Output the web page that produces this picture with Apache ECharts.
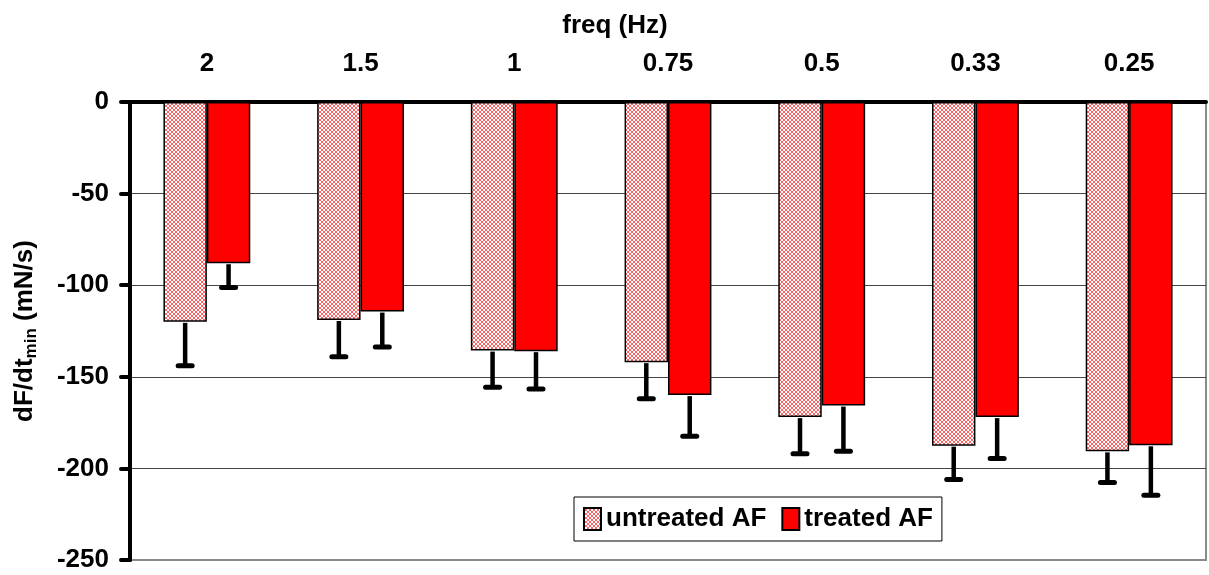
<!DOCTYPE html>
<html>
<head>
<meta charset="utf-8">
<script src="https://cdn.jsdelivr.net/npm/echarts@6/dist/echarts.min.js"></script>
<style>
  html, body { margin: 0; padding: 0; background: #fff; }
  #chart { width: 1209px; height: 575px; }
</style>
</head>
<body>
<div id="chart"></div>
<script>
// frequency categories (top axis)
var freqs = ['2', '1.5', '1', '0.75', '0.5', '0.33', '0.25']
// means and error (downward only)
var untreated = [-120, -119, -135.7, -142, -172, -187.6, -190.7]
var untreatedErr = [24, 20, 20, 20, 20, 18.5, 17]
var treated = [-88, -114.4, -136, -160, -165.7, -172, -187.4]
var treatedErr = [13.2, 19.3, 20.6, 22.4, 25, 22.6, 27.3]

var FONT = "'Liberation Sans', Arial, sans-serif"
var CAT_GAP = 0.435

// cross-hatch fill for the untreated bars
function hatch () {
  var c = document.createElement('canvas')
  c.width = 4
  c.height = 4
  var ctx = c.getContext('2d')
  ctx.fillStyle = '#fff'
  ctx.fillRect(0, 0, 4, 4)
  ctx.fillStyle = '#ff6464'
  for (var i = 0; i < 4; i++) {
    ctx.fillRect(i, i, 1, 1)
    ctx.fillRect(3 - i, i, 1, 1)
  }
  return c
}

function errData (means, errs) {
  return means.map(function (m, i) { return [i, m, m - errs[i]] })
}

// side: -1 left bar, 1 right bar
function errRenderer (side) {
  return function (params, api) {
    var idx = api.value(0)
    var top = api.coord([idx, api.value(1)])
    var bot = api.coord([idx, api.value(2)])
    var band = api.size([1, 0])[0]
    var bw = band * (1 - CAT_GAP) / 2
    var x = top[0] + side * bw / 2
    return {
      type: 'group',
      children: [
        { type: 'line', shape: { x1: x, y1: top[1] + 1, x2: x, y2: bot[1] }, style: { stroke: '#000', lineWidth: 4.5 } },
        { type: 'line', shape: { x1: x - 7, y1: bot[1], x2: x + 7, y2: bot[1] }, style: { stroke: '#000', lineWidth: 5, lineCap: 'round' } }
      ]
    }
  }
}

var chart = echarts.init(document.getElementById('chart'))
chart.setOption({
  animation: false,
  textStyle: { fontFamily: FONT },
  grid: {
    left: 130, right: 3, top: 102, bottom: 15,
    show: true, borderColor: '#8a8a8a', borderWidth: 2
  },
  graphic: [{
    type: 'text', x: 615, y: 26,
    style: { text: 'freq (Hz)', font: 'bold 26px ' + FONT, fill: '#000', align: 'center', verticalAlign: 'middle' }
  }],
  legend: {
    data: ['untreated AF', 'treated AF'],
    left: 574, top: 497,
    padding: [9, 9, 9, 9],
    itemGap: 15,
    itemWidth: 17,
    itemHeight: 22,
    icon: 'rect',
    borderColor: '#000',
    borderWidth: 1,
    itemStyle: { borderColor: '#000', borderWidth: 2 },
    textStyle: { fontSize: 26, fontWeight: 'bold', color: '#000', fontFamily: FONT }
  },
  xAxis: {
    type: 'category',
    position: 'top',
    data: freqs,
    axisLine: { lineStyle: { color: '#000', width: 4 } },
    axisTick: { inside: true, length: 6, lineStyle: { color: '#000', width: 4, cap: 'round' } },
    axisLabel: { color: '#000', fontSize: 26, fontWeight: 'bold', margin: 25 }
  },
  yAxis: {
    type: 'value',
    min: -250, max: 0, interval: 50,
    name: '{a|dF/dt}{s|min}{a| (mN/s)}',
    nameLocation: 'middle',
    nameGap: 90,
    nameTextStyle: {
      rich: {
        a: { fontSize: 26, fontWeight: 'bold', color: '#000', lineHeight: 30, fontFamily: FONT },
        s: { fontSize: 17, fontWeight: 'bold', color: '#000', lineHeight: 14, verticalAlign: 'bottom', fontFamily: FONT }
      }
    },
    axisLine: { show: true, lineStyle: { color: '#000', width: 4 } },
    axisTick: { show: true, length: 9, lineStyle: { color: '#000', width: 4, cap: 'round' } },
    axisLabel: { color: '#000', fontSize: 26, fontWeight: 'bold', margin: 21 },
    splitLine: { show: true, showMinLine: false, lineStyle: { color: '#444', width: 1 } }
  },
  series: [
    {
      name: 'untreated AF',
      type: 'bar',
      data: untreated,
      barGap: '0%',
      barCategoryGap: (CAT_GAP * 100) + '%',
      itemStyle: { color: { image: hatch(), repeat: 'repeat' }, borderColor: '#000', borderWidth: 1.5 }
    },
    {
      name: 'treated AF',
      type: 'bar',
      data: treated,
      barGap: '0%',
      barCategoryGap: (CAT_GAP * 100) + '%',
      itemStyle: { color: '#ff0000', borderColor: '#000', borderWidth: 1.5 }
    },
    {
      type: 'custom',
      z: 5,
      renderItem: errRenderer(-1),
      encode: { x: 0, y: [1, 2] },
      data: errData(untreated, untreatedErr)
    },
    {
      type: 'custom',
      z: 5,
      renderItem: errRenderer(1),
      encode: { x: 0, y: [1, 2] },
      data: errData(treated, treatedErr)
    }
  ]
})
</script>
</body>
</html>
